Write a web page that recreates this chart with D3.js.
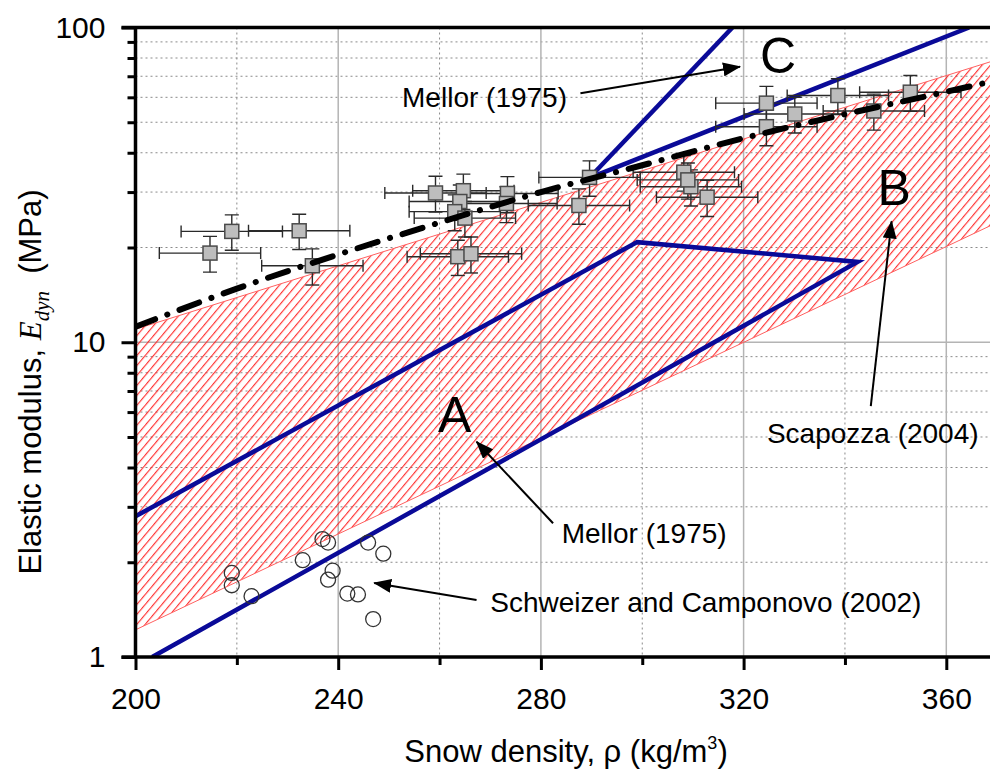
<!DOCTYPE html>
<html>
<head>
<meta charset="utf-8">
<script src="https://cdn.jsdelivr.net/npm/d3@7"></script>
<style>
  body { margin: 0; background: #fff; }
  svg { display: block; }
  text { font-family: "Liberation Sans", Arial, sans-serif; fill: #000; }
</style>
</head>
<body>
<div id="chart"></div>
<script>

  /**************************************************
   * Data                                           *
   **************************************************/

  // Measured points (squares) with error bars
  var pointRho = [219.0, 232.3, 214.7, 234.9, 259.2, 264.7, 264.0, 263.0, 265.0, 273.4, 273.2, 289.6, 287.5,
    263.6, 266.2, 308.2, 309.6, 309.0, 312.8, 324.5, 324.5, 330.1, 338.6, 345.7, 352.9];
  var pointE = [22.5, 22.6, 19.2, 17.5, 29.8, 30.3, 28.0, 26.0, 24.8, 29.7, 27.6, 33.4, 27.2,
    18.7, 19.1, 34.7, 31.2, 32.8, 28.9, 57.5, 48.4, 53.1, 60.8, 54.3, 62.3];
  var pointRhoErr = [10, 10, 10, 10, 10, 10, 10, 9, 10, 10, 10, 10, 10,
    10, 10, 10, 10, 10, 10, 10, 10, 10, 10, 10, 10];
  var pointEErr = [2.9, 2.9, 2.5, 2.3, 3.9, 3.9, 3.6, 3.4, 3.2, 3.9, 3.6, 4.3, 3.5,
    2.4, 2.5, 4.5, 4.1, 4.3, 3.8, 7.5, 6.3, 6.9, 7.9, 7.1, 8.1];

  // Schweizer and Camponovo (2002), open circles
  var schweizerRho = [219.0, 219.0, 222.9, 233.0, 236.9, 238.0, 238.9, 238.0, 241.8, 243.9, 245.9, 248.9, 246.9];
  var schweizerE = [1.85, 1.69, 1.56, 2.03, 2.37, 2.31, 1.88, 1.76, 1.59, 1.58, 2.31, 2.13, 1.32];

  // Scapozza (2004) band
  var scapRho = [200, 370];
  var scapLow = [1.22, 24.0];
  var scapHigh = [11.0, 79.0];

  // Mellor (1975) A
  var mellorARho = [200, 299, 342.5, 203.3];
  var mellorAE = [2.8, 20.8, 18.0, 1.0];

  // Mellor (1975) C
  var mellorC1Rho = [289.6, 317.8];
  var mellorC1E = [33.3, 100];
  var mellorC2Rho = [289.6, 364.5];
  var mellorC2E = [33.3, 100];

  // dash-dot fit
  var fitRho = [200, 220, 240, 260, 280, 300, 320, 340, 360, 370];
  var fitE = [11.2, 14.8, 19.0, 24.0, 30.0, 36.5, 44.5, 53.0, 62.5, 68.0];

  // Axes ticks
  var xMajorTicks = [200, 240, 280, 320, 360];
  var xMinorTicks = [220, 260, 300, 340];
  var yMajorTicks = [1, 10, 100];
  var yMinorTicks = [2, 3, 4, 5, 6, 7, 8, 9, 20, 30, 40, 50, 60, 70, 80, 90];

  // Annotations
  var labelText = ['Mellor (1975)', 'C', 'B', 'Scapozza (2004)', 'A', 'Mellor (1975)', 'Schweizer and Camponovo (2002)'];
  var labelRho = [252.6, 326.8, 349.7, 324.6, 263.0, 284.1, 270.0];
  var labelE = [56.0, 71.7, 27.3, 4.79, 5.19, 2.30, 1.39];
  var labelBig = [false, true, true, false, true, false, false];

  var arrowFromRho = [287.8, 345.1, 282.4, 267.3];
  var arrowFromE = [61.8, 6.27, 2.66, 1.517];
  var arrowToRho = [319.3, 349.2, 267.3, 247.1];
  var arrowToE = [75.1, 24.2, 4.83, 1.718];

  /**************************************************
   * Setup                                          *
   **************************************************/

  var width = 990,
    height = 769;

  var plotLeft = 135.5,
    plotTop = 27.5,
    plotBottom = 657;

  var x = d3.scaleLinear().domain([200, 370]).range([plotLeft, plotLeft + 170 * 5.0675]);
  var y = d3.scaleLog().domain([1, 100]).range([plotBottom, plotTop]);

  var svg = d3.select('#chart').append('svg')
    .attr('width', width)
    .attr('height', height);

  var defs = svg.append('defs');

  defs.append('clipPath').attr('id', 'plotClip')
    .append('rect')
    .attr('x', plotLeft)
    .attr('y', plotTop)
    .attr('width', width - plotLeft)
    .attr('height', plotBottom - plotTop);

  var hatch = defs.append('pattern')
    .attr('id', 'hatch')
    .attr('patternUnits', 'userSpaceOnUse')
    .attr('width', 6.4)
    .attr('height', 6.4)
    .attr('patternTransform', 'rotate(40)');
  hatch.append('line')
    .attr('x1', 0.6).attr('y1', 0)
    .attr('x2', 0.6).attr('y2', 6.4)
    .attr('stroke', '#ff2020')
    .attr('stroke-width', 1.05);

  defs.append('marker')
    .attr('id', 'arrowHead')
    .attr('markerUnits', 'userSpaceOnUse')
    .attr('viewBox', '0 0 18 14')
    .attr('refX', 17)
    .attr('refY', 7)
    .attr('markerWidth', 18)
    .attr('markerHeight', 14)
    .attr('orient', 'auto')
    .append('path')
    .attr('d', 'M0,0 L18,7 L0,14 Z')
    .attr('fill', '#000');

  /**************************************************
   * Grid                                           *
   **************************************************/

  var grid = svg.append('g').attr('clip-path', 'url(#plotClip)');

  grid.selectAll('.vminor').data(xMinorTicks).enter().append('line')
    .attr('x1', function(d) { return x(d); })
    .attr('x2', function(d) { return x(d); })
    .attr('y1', plotTop).attr('y2', plotBottom)
    .attr('stroke', '#8a8a8a').attr('stroke-width', 1)
    .attr('stroke-dasharray', '2,3');

  grid.selectAll('.hminor').data(yMinorTicks).enter().append('line')
    .attr('x1', plotLeft).attr('x2', width)
    .attr('y1', function(d) { return y(d); })
    .attr('y2', function(d) { return y(d); })
    .attr('stroke', '#8a8a8a').attr('stroke-width', 1)
    .attr('stroke-dasharray', '2,3');

  grid.selectAll('.vmajor').data(xMajorTicks.slice(1)).enter().append('line')
    .attr('x1', function(d) { return x(d); })
    .attr('x2', function(d) { return x(d); })
    .attr('y1', plotTop).attr('y2', plotBottom)
    .attr('stroke', '#b4b4b4').attr('stroke-width', 1.5);

  grid.append('line')
    .attr('x1', plotLeft).attr('x2', width)
    .attr('y1', y(10)).attr('y2', y(10))
    .attr('stroke', '#b4b4b4').attr('stroke-width', 1.5);

  /**************************************************
   * Marks                                          *
   **************************************************/

  var plot = svg.append('g').attr('clip-path', 'url(#plotClip)');

  // Scapozza band
  var band = scapRho.map(function(r, i) { return { r: r, lo: scapLow[i], hi: scapHigh[i] }; });
  plot.append('path')
    .datum(band)
    .attr('d', d3.area()
      .x(function(d) { return x(d.r); })
      .y0(function(d) { return y(d.lo); })
      .y1(function(d) { return y(d.hi); }))
    .attr('fill', 'url(#hatch)');

  [scapLow, scapHigh].forEach(function(edge) {
    plot.append('path')
      .datum(scapRho.map(function(r, i) { return [r, edge[i]]; }))
      .attr('d', d3.line().x(function(d) { return x(d[0]); }).y(function(d) { return y(d[1]); }))
      .attr('fill', 'none')
      .attr('stroke', '#ff6060')
      .attr('stroke-width', 1);
  });

  // Mellor lines
  var blueLine = d3.line().x(function(d) { return x(d[0]); }).y(function(d) { return y(d[1]); });
  [[mellorARho, mellorAE], [mellorC1Rho, mellorC1E], [mellorC2Rho, mellorC2E]].forEach(function(s) {
    plot.append('path')
      .datum(s[0].map(function(r, i) { return [r, s[1][i]]; }))
      .attr('d', blueLine)
      .attr('fill', 'none')
      .attr('stroke', '#0a0a98')
      .attr('stroke-width', 4.5)
      .attr('stroke-linejoin', 'miter');
  });

  // Error bars and squares
  var pts = pointRho.map(function(r, i) {
    return { r: r, e: pointE[i], re: pointRhoErr[i], ee: pointEErr[i] };
  });

  var bars = plot.append('g').attr('stroke', '#2a2a2a').attr('stroke-width', 1.4);
  pts.forEach(function(p) {
    var cx = x(p.r), cy = y(p.e);
    var x0 = x(p.r - p.re), x1 = x(p.r + p.re);
    var y0 = y(p.e - p.ee), y1 = y(p.e + p.ee);
    bars.append('line').attr('x1', x0).attr('x2', x1).attr('y1', cy).attr('y2', cy);
    bars.append('line').attr('x1', x0).attr('x2', x0).attr('y1', cy - 6).attr('y2', cy + 6);
    bars.append('line').attr('x1', x1).attr('x2', x1).attr('y1', cy - 6).attr('y2', cy + 6);
    bars.append('line').attr('x1', cx).attr('x2', cx).attr('y1', y0).attr('y2', y1);
    bars.append('line').attr('x1', cx - 7).attr('x2', cx + 7).attr('y1', y0).attr('y2', y0);
    bars.append('line').attr('x1', cx - 7).attr('x2', cx + 7).attr('y1', y1).attr('y2', y1);
  });

  plot.selectAll('.sq').data(pts).enter().append('rect')
    .attr('x', function(d) { return x(d.r) - 7; })
    .attr('y', function(d) { return y(d.e) - 7; })
    .attr('width', 14)
    .attr('height', 14)
    .attr('fill', '#bdbdbd')
    .attr('stroke', '#4a4a4a')
    .attr('stroke-width', 1.5);

  // dash-dot curve
  plot.append('path')
    .datum(fitRho.map(function(r, i) { return [r, fitE[i]]; }))
    .attr('d', d3.line().curve(d3.curveMonotoneX).x(function(d) { return x(d[0]); }).y(function(d) { return y(d[1]); }))
    .attr('fill', 'none')
    .attr('stroke', '#000')
    .attr('stroke-width', 6)
    .attr('stroke-linecap', 'round')
    .attr('stroke-dasharray', '21,13,0.1,13');

  // circles
  plot.selectAll('.circ').data(schweizerRho).enter().append('circle')
    .attr('cx', function(d) { return x(d); })
    .attr('cy', function(d, i) { return y(schweizerE[i]); })
    .attr('r', 7.5)
    .attr('fill', 'none')
    .attr('stroke', '#333')
    .attr('stroke-width', 1.3);

  /**************************************************
   * Axes                                           *
   **************************************************/

  var axes = svg.append('g');

  function styleAxis(g) {
    g.select('.domain').remove();
    g.selectAll('.tick line').attr('stroke', '#000').attr('stroke-width', 3);
    g.selectAll('.tick text').attr('fill', '#000')
      .style('font-family', '"Liberation Sans", Arial, sans-serif')
      .style('font-size', '30px');
  }

  axes.append('g')
    .attr('transform', 'translate(' + plotLeft + ',0)')
    .call(d3.axisLeft(y).tickValues(yMinorTicks).tickSize(8).tickFormat(''))
    .call(styleAxis);

  axes.append('g')
    .attr('transform', 'translate(' + plotLeft + ',0)')
    .call(d3.axisLeft(y).tickValues(yMajorTicks).tickSize(14).tickPadding(16).tickFormat(d3.format('d')))
    .call(styleAxis);

  axes.append('g')
    .attr('transform', 'translate(0,' + plotBottom + ')')
    .call(d3.axisBottom(x).tickValues(xMinorTicks).tickSize(8).tickFormat(''))
    .call(styleAxis);

  axes.append('g')
    .attr('transform', 'translate(0,' + plotBottom + ')')
    .call(d3.axisBottom(x).tickValues(xMajorTicks).tickSize(13).tickPadding(18).tickFormat(d3.format('d')))
    .call(styleAxis);

  axes.append('line')
    .attr('x1', plotLeft).attr('x2', plotLeft)
    .attr('y1', plotTop).attr('y2', plotBottom)
    .attr('stroke', '#000').attr('stroke-width', 3.5);
  axes.append('line')
    .attr('x1', plotLeft - 14).attr('x2', width)
    .attr('y1', plotBottom).attr('y2', plotBottom)
    .attr('stroke', '#000').attr('stroke-width', 3.5);
  axes.append('line')
    .attr('x1', plotLeft - 14).attr('x2', width)
    .attr('y1', plotTop).attr('y2', plotTop)
    .attr('stroke', '#000').attr('stroke-width', 3.5);

  // axis titles
  var xTitle = svg.append('text')
    .attr('x', 566)
    .attr('y', 762)
    .attr('text-anchor', 'middle')
    .style('font-size', '31px');
  xTitle.append('tspan').text('Snow density, \u03c1 (kg/m');
  xTitle.append('tspan').attr('dy', -13).style('font-size', '18px').text('3');
  xTitle.append('tspan').attr('dy', 13).text(')');

  var yTitle = svg.append('text')
    .attr('transform', 'translate(41,' + 382 + ') rotate(-90)')
    .attr('text-anchor', 'middle')
    .style('font-size', '31px');
  yTitle.append('tspan').text('Elastic modulus, ');
  yTitle.append('tspan')
    .style('font-family', '"Liberation Serif", "Times New Roman", serif')
    .style('font-style', 'italic')
    .text('E');
  yTitle.append('tspan')
    .attr('dy', 8)
    .style('font-family', '"Liberation Serif", "Times New Roman", serif')
    .style('font-style', 'italic')
    .style('font-size', '21px')
    .text('dyn');
  yTitle.append('tspan').attr('dy', -8).text('\u00a0 (MPa)');

  /**************************************************
   * Annotations                                    *
   **************************************************/

  var notes = svg.append('g');

  labelText.forEach(function(t, i) {
    notes.append('text')
      .attr('x', x(labelRho[i]))
      .attr('y', y(labelE[i]))
      .attr('text-anchor', labelBig[i] ? 'middle' : 'start')
      .style('font-size', labelBig[i] ? '50px' : '28px')
      .text(t);
  });

  arrowFromRho.forEach(function(r, i) {
    notes.append('line')
      .attr('x1', x(r))
      .attr('y1', y(arrowFromE[i]))
      .attr('x2', x(arrowToRho[i]))
      .attr('y2', y(arrowToE[i]))
      .attr('stroke', '#000')
      .attr('stroke-width', 2)
      .attr('marker-end', 'url(#arrowHead)');
  });

</script>
</body>
</html>
